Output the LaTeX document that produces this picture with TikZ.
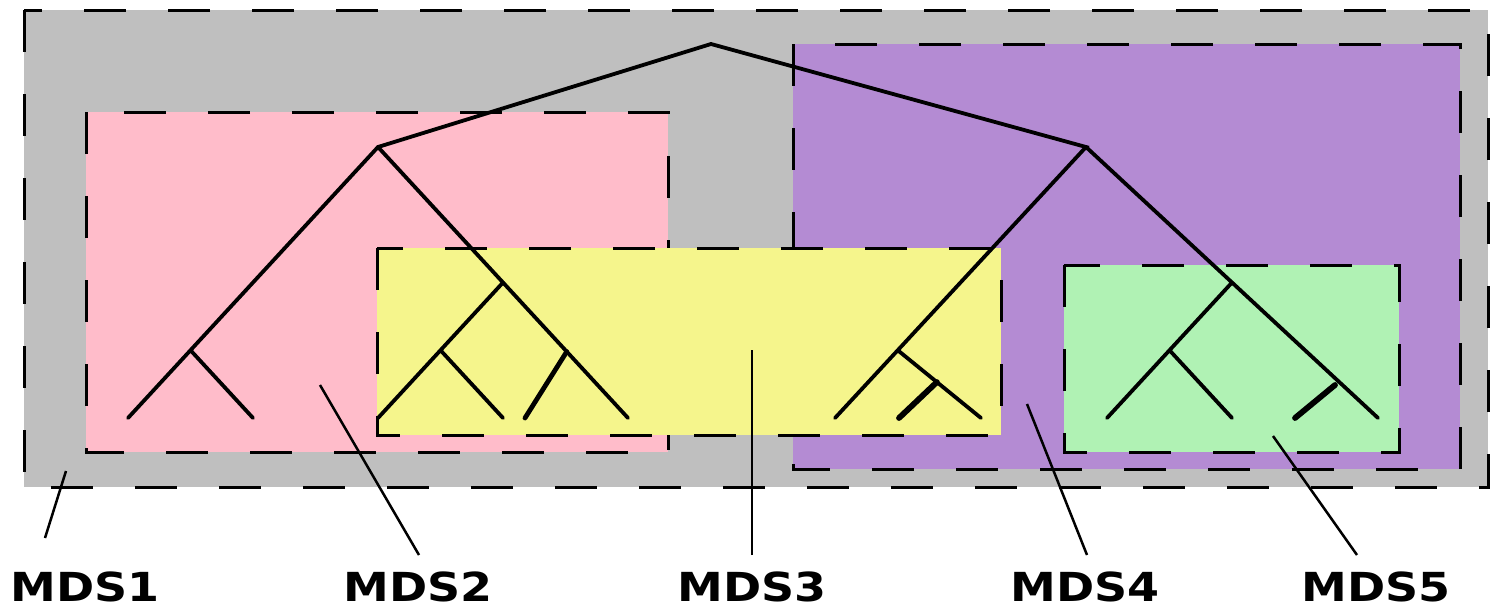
\documentclass[tikz,border=0pt]{standalone}
\usepackage{fontspec}
\usetikzlibrary{calc}
\newfontfamily\lab[FakeStretch=1.15]{DejaVu Sans}
\definecolor{cgray}{HTML}{BFBFBF}
\definecolor{cpink}{HTML}{FFBCCA}
\definecolor{cpurple}{HTML}{B48BD3}
\definecolor{cyellow}{HTML}{F5F58C}
\definecolor{cgreen}{HTML}{B0F2B4}
\begin{document}
\begin{tikzpicture}[x=1pt,y=-1pt,
  region/.style={draw=black,line width=3pt,dash pattern=on 42pt off 42pt},
  edge/.style={line width=3.8pt,line cap=round},
  thickedge/.style={line width=5.8pt,line cap=round},
  leader/.style={line width=2.5pt},
  lbl/.style={font=\lab\bfseries\fontsize{40}{40}\selectfont,inner sep=0pt,
    text depth=0pt,text height=29pt,anchor=base}]
\useasboundingbox (0,0) rectangle (1490,605);
% regions
\path[region,fill=cgray] (24,10) rectangle (1488,487);
\path[region,fill=cpink] (86,112) rectangle (668,452);
\path[region,fill=cpurple] (793,44) rectangle (1460,469);
\path[region,fill=cyellow] (377,248) rectangle (1001,435);
\path[region,fill=cgreen] (1064,265) rectangle (1399,452);
% tree coordinates
\coordinate (r) at (711,44);
\coordinate (L) at (378,147);
\coordinate (R) at (1086,147);
\coordinate (Laa) at (128,418);
\coordinate (La) at ($(L)!0.75!(Laa)$);
\coordinate (Lab) at (253,418);
\coordinate (Lbbb) at (628,418);
\coordinate (Lb) at ($(L)!0.5!(Lbbb)$);
\coordinate (Lbaa) at (378,418);
\coordinate (Lba) at ($(Lb)!0.5!(Lbaa)$);
\coordinate (Lbab) at (503,418);
\coordinate (Lbb) at ($(Lb)!0.51!(Lbbb)$);
\coordinate (Lbba) at (525,418);
\coordinate (Raa) at (835,418);
\coordinate (Ra) at ($(R)!0.75!(Raa)$);
\coordinate (Rabb) at (981,418);
\coordinate (Rab) at ($(Ra)!0.47!(Rabb)$);
\coordinate (Raba) at (899,418);
\coordinate (Rbbb) at (1378,418);
\coordinate (Rb) at ($(R)!0.5!(Rbbb)$);
\coordinate (Rbaa) at (1107,418);
\coordinate (Rba) at ($(Rb)!0.5!(Rbaa)$);
\coordinate (Rbab) at (1232,418);
\coordinate (Rbb) at (1335,385);
\coordinate (Rbba) at (1295,418);
% tree
\draw[edge] (Laa) -- (L) -- (r) -- (R) -- (Raa);
\draw[edge] (La) -- (Lab);
\draw[edge] (L) -- (Lbbb);
\draw[edge] (Lb) -- (Lbaa);
\draw[edge] (Lba) -- (Lbab);
\draw[thickedge,line width=4.8pt] (Lbb) -- (Lbba);
\draw[edge] (Ra) -- (Rabb);
\draw[thickedge] (Rab) -- (Raba);
\draw[edge] (R) -- (Rbbb);
\draw[edge] (Rb) -- (Rbaa);
\draw[edge] (Rba) -- (Rbab);
\draw[thickedge] (Rbb) -- (Rbba);
% labels
\node[lbl] (m1) at (85,601) {MDS1};
\node[lbl] (m2) at (418,601) {MDS2};
\node[lbl] (m3) at (752,601) {MDS3};
\node[lbl] (m4) at (1085,601) {MDS4};
\node[lbl] (m5) at (1376,601) {MDS5};
\coordinate (p1) at (66,471);
\coordinate (p2) at (320,385);
\coordinate (p3) at (752,350);
\coordinate (p4) at (1027,404);
\coordinate (p5) at (1273,436);
\draw[leader] (45,538) -- (p1);
\draw[leader] (419,555) -- (p2);
\draw[leader] (752,555) -- (p3);
\draw[leader] (1087,555) -- (p4);
\draw[leader] (1357,555) -- (p5);
\end{tikzpicture}
\end{document}
